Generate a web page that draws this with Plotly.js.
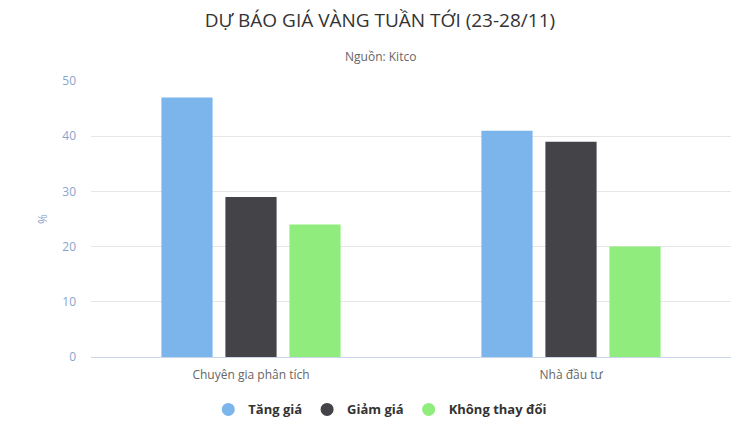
<!DOCTYPE html>
<html>
<head>
<meta charset="utf-8">
<script src="https://cdn.plot.ly/plotly-3.0.1.min.js"></script>
<style>
  html, body { margin: 0; padding: 0; background: #fff; }
  #chart { width: 732px; height: 442px; }
</style>
</head>
<body>
<div id="chart"></div>
<script>
let categories = ['Chuyên gia phân tích', 'Nhà đầu tư'];
let series_names = ['Tăng giá', 'Giảm giá', 'Không thay đổi'];
let series_values = [
  [47, 41],
  [29, 39],
  [24, 20],
];
let colors = ['#7cb5ec', '#434348', '#90ed7d'];
let y_ticks = [0, 10, 20, 30, 40, 50];

let font = 'Open Sans, Noto Sans, sans-serif';

let data = [];
// bars, legend hidden (Highcharts-style round legend symbols below)
for (let i = 0; i < series_names.length; ++i) {
  data.push({
    type: 'bar',
    x: categories,
    y: series_values[i],
    name: series_names[i],
    legendgroup: series_names[i],
    showlegend: false,
    marker: { color: colors[i], line: { width: 0 } },
    hoverinfo: 'x+y+name',
  });
}
for (let i = 0; i < series_names.length; ++i) {
  data.push({
    type: 'scatter',
    mode: 'markers',
    x: [null],
    y: [null],
    name: series_names[i],
    legendgroup: series_names[i],
    marker: { color: colors[i], size: 13, symbol: 'circle' },
    hoverinfo: 'skip',
  });
}

Plotly.newPlot(
  'chart',
  data,
  {
    width: 732,
    height: 442,
    paper_bgcolor: '#ffffff',
    plot_bgcolor: '#ffffff',
    font: { family: font, color: '#333333' },
    margin: { t: 81, r: 1, b: 85, l: 91 },
    title: {
      text: 'DỰ BÁO GIÁ VÀNG TUẦN TỚI (23-28/11)',
      font: { family: font, size: 19, color: '#333333' },
      xref: 'container',
      yref: 'container',
      x: 0.519,
      xanchor: 'center',
      y: 0.953,
      yanchor: 'middle',
    },
    annotations: [
      {
        text: 'Nguồn: Kitco',
        xref: 'paper',
        yref: 'paper',
        x: 0.452,
        y: 1.09,
        xanchor: 'center',
        yanchor: 'middle',
        showarrow: false,
        font: { family: font, size: 12, color: '#666666' },
      },
    ],
    barmode: 'group',
    bargap: 0.4,
    bargroupgap: 0.2,
    xaxis: {
      type: 'category',
      showgrid: false,
      showline: true,
      linecolor: '#ccd6eb',
      linewidth: 1,
      ticks: '',
      ticklabelstandoff: 7,
      tickfont: { family: font, size: 12, color: '#666666' },
      fixedrange: true,
    },
    yaxis: {
      range: [0, 50],
      tickvals: y_ticks,
      showgrid: true,
      gridcolor: '#e6e6e6',
      gridwidth: 1,
      zeroline: false,
      showline: false,
      ticks: '',
      ticklen: 0,
      ticklabelstandoff: 14,
      tickfont: { family: font, size: 12, color: '#8ba4cc' },
      title: { text: '%', font: { family: font, size: 12, color: '#8ba4cc' }, standoff: 12 },
      fixedrange: true,
    },
    showlegend: true,
    legend: {
      orientation: 'h',
      x: 0.452,
      xanchor: 'center',
      y: -0.19,
      yanchor: 'middle',
      font: { family: font, size: 13, color: '#333333', weight: 'bold' },
      itemwidth: 30,
      tracegroupgap: 0,
    },
  },
  { staticPlot: true }
);
</script>
</body>
</html>
